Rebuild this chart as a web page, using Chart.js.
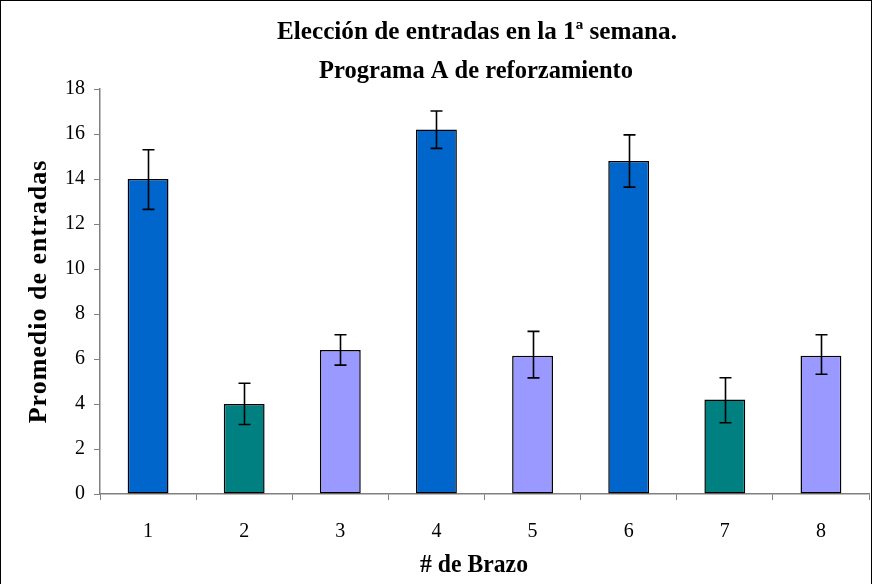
<!DOCTYPE html>
<html>
<head>
<meta charset="utf-8">
<script src="https://cdn.jsdelivr.net/npm/chart.js@4/dist/chart.umd.min.js"></script>
<style>
  html, body { margin: 0; padding: 0; background: #fff; }
  #wrap { width: 873px; height: 584px; position: relative; }
  canvas { display: block; }
</style>
</head>
<body>
<div id="wrap"><canvas id="c" width="873" height="584"></canvas></div>
<script>
// ---- data ----
const categories = ['1', '2', '3', '4', '5', '6', '7', '8'];
const means      = [14.0, 4.0, 6.4, 16.2, 6.15, 14.8, 4.2, 6.15];
const errUpper   = [15.3, 4.92, 7.08, 17.02, 7.23, 15.96, 5.17, 7.08];
const errLower   = [12.65, 3.09, 5.73, 15.36, 5.16, 13.64, 3.17, 5.32];
const barGroup   = ['A', 'B', 'C', 'A', 'C', 'A', 'B', 'C'];
const titleLines = ['Elección de entradas en la 1ª semana.', 'Programa A de reforzamiento'];
const xTitle = '# de Brazo';
const yTitle = 'Promedio de entradas';
const yTicks = [0, 2, 4, 6, 8, 10, 12, 14, 16, 18];

const groupColors = { A: '#0066CC', B: '#008080', C: '#9999FF' };
const SERIF = '"Liberation Serif", "Times New Roman", serif';

function drawFitted(ctx, text, cx, baseline, font, targetW) {
  ctx.save();
  ctx.font = font;
  const w = ctx.measureText(text).width;
  const sx = targetW ? targetW / w : 1;
  ctx.translate(cx, baseline);
  ctx.scale(sx, 1);
  ctx.textAlign = 'center';
  ctx.textBaseline = 'alphabetic';
  ctx.fillStyle = '#000';
  ctx.fillText(text, 0, 0);
  ctx.restore();
}

const decorPlugin = {
  id: 'decor',
  beforeDraw(chart) {
    const ctx = chart.ctx;
    ctx.save();
    ctx.fillStyle = '#fff';
    ctx.fillRect(0, 0, chart.width, chart.height);
    ctx.strokeStyle = '#000';
    ctx.lineWidth = 1;
    ctx.strokeRect(0.5, 0.5, chart.width - 2, chart.height);
    ctx.restore();
  },
  afterDraw(chart) {
    const ctx = chart.ctx;
    const bold = 'bold 25px ' + SERIF;
    drawFitted(ctx, titleLines[0], 477, 39, bold, 400);
    drawFitted(ctx, titleLines[1], 476, 78, bold, 314);
    drawFitted(ctx, xTitle, 474, 572, bold, 108);
    // y title rotated
    ctx.save();
    ctx.font = 'bold 26px ' + SERIF;
    if ('letterSpacing' in ctx) ctx.letterSpacing = '1px';
    const ya = chart.scales.y;
    const cy = (ya.top + ya.bottom) / 2;
    ctx.translate(45.5, cy);
    ctx.rotate(-Math.PI / 2);
    ctx.textAlign = 'center';
    ctx.textBaseline = 'alphabetic';
    ctx.fillStyle = '#000';
    ctx.fillText(yTitle, 0, 0);
    ctx.restore();
  }
};

const errorBarPlugin = {
  id: 'errbars',
  afterDatasetsDraw(chart) {
    const ctx = chart.ctx;
    const meta = chart.getDatasetMeta(0);
    const ys = chart.scales.y;
    ctx.save();
    ctx.strokeStyle = '#000';
    ctx.lineWidth = 1.6;
    meta.data.forEach((bar, i) => {
      const x = Math.round(bar.x) + 0.5;
      const yHi = ys.getPixelForValue(errUpper[i]);
      const yLo = ys.getPixelForValue(errLower[i]);
      const cap = 6;
      ctx.beginPath();
      ctx.moveTo(x, yHi); ctx.lineTo(x, yLo);
      ctx.moveTo(x - cap, yHi); ctx.lineTo(x + cap, yHi);
      ctx.moveTo(x - cap, yLo); ctx.lineTo(x + cap, yLo);
      ctx.stroke();
    });
    ctx.restore();
  }
};

new Chart(document.getElementById('c'), {
  type: 'bar',
  data: {
    labels: categories,
    datasets: [{
      data: means,
      backgroundColor: barGroup.map(g => groupColors[g]),
      borderColor: '#000',
      borderWidth: 1.5,
      borderSkipped: false,
      barPercentage: 0.425,
      categoryPercentage: 1.0
    }]
  },
  options: {
    responsive: false,
    animation: false,
    devicePixelRatio: 1,
    layout: { padding: { top: 89, right: 4, left: 0, bottom: 0 } },
    plugins: {
      legend: { display: false },
      title: { display: false },
      tooltip: { enabled: false }
    },
    scales: {
      x: {
        offset: true,
        grid: { display: true, drawOnChartArea: false, drawTicks: true, tickLength: 6, color: '#808080', offset: true },
        border: { display: true, color: '#808080', width: 1.5 },
        ticks: { color: '#000', font: { family: SERIF, size: 20 }, padding: 20, maxRotation: 0 },
        afterFit(s) { s.height = 90; }
      },
      y: {
        min: 0, max: 18,
        afterBuildTicks(s) { s.ticks = yTicks.map(v => ({ value: v })); },
        grid: { display: true, drawOnChartArea: false, drawTicks: true, tickLength: 6, color: '#808080' },
        border: { display: true, color: '#808080', width: 1.5 },
        ticks: { color: '#000', font: { family: SERIF, size: 20 }, padding: 9 },
        afterFit(s) { s.width = 100; }
      }
    }
  },
  plugins: [decorPlugin, errorBarPlugin]
});
</script>
</body>
</html>
